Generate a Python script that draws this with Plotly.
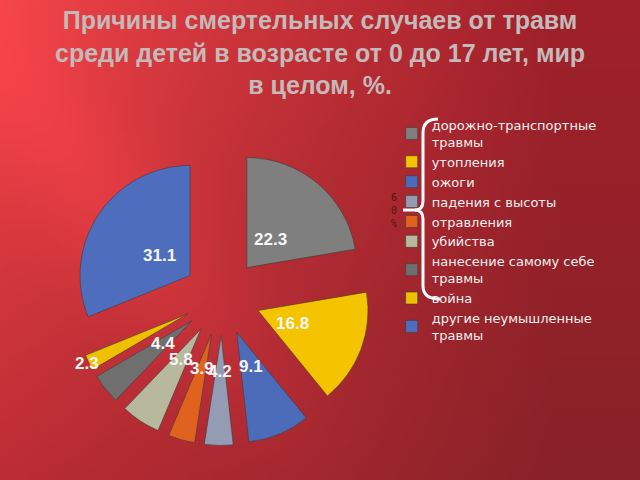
import math
import zlib
import struct
import base64
import plotly.graph_objects as go

# ---------------- data ----------------
categories = [
    "дорожно-транспортные<br>травмы",
    "утопления",
    "ожоги",
    "падения с высоты",
    "отравления",
    "убийства",
    "нанесение самому себе<br>травмы",
    "война",
    "другие неумышленные<br>травмы",
]
values = [22.3, 16.8, 9.1, 4.2, 3.9, 5.8, 4.4, 2.3, 31.1]
value_labels = ["22.3", "16.8", "9.1", "4.2", "3.9", "5.8", "4.4", "2.3", "31.1"]
colors = ["#7f7f7f", "#f4c400", "#4c6cb9", "#939cb3", "#e1621f",
          "#b8b89d", "#6f6f6f", "#efc000", "#4e6ebd"]
# radial position of each value label (fraction of pie radius)
label_radius = [0.68, 0.68, 0.68, 0.68, 0.68, 0.68, 0.68, 1.37, 0.68]
title_text = ("Причины смертельных случаев от травм<br>"
              "среди детей в возрасте от 0 до 17 лет, мир<br>"
              "в целом, %.")

W, H = 640, 480
PULL = 0.35
CX, CY, R_OUT = 222, 297, 148.5
R_PIE = R_OUT / (1 + PULL)
dom_x = [(CX - R_OUT) / W, (CX + R_OUT) / W]
dom_y = [1 - (CY + R_OUT) / H, 1 - (CY - R_OUT) / H]


# ---------------- background gradient (generated PNG) ----------------
def lerp(a, b, t):
    return a + (b - a) * t


def bg_color(u, v):
    tl, tr = (240, 68, 72), (160, 32, 42)
    bl, br = (188, 44, 52), (136, 33, 40)
    tu = min(1.0, u * 1.15)
    c = []
    for i in range(3):
        top = lerp(tl[i], tr[i], tu)
        bot = lerp(bl[i], br[i], tu)
        c.append(lerp(top, bot, v))
    px_, py_ = u * W, v * H
    ax, ay, bx, by = 0.0, 60.0, 330.0, 480.0
    dx, dy = bx - ax, by - ay
    L = math.hypot(dx, dy)
    d = abs((px_ - ax) * dy - (py_ - ay) * dx) / L
    t = ((px_ - ax) * dx + (py_ - ay) * dy) / (L * L)
    k = math.exp(-(d / 70.0) ** 2) * max(0.0, 1 - abs(t - 0.35) * 1.3)
    c[0] += 22 * k
    c[1] += 6 * k
    c[2] += 7 * k
    return tuple(max(0, min(255, int(round(x)))) for x in c)


def make_png(w, h):
    rows = []
    for y in range(h):
        row = bytearray([0])
        for x in range(w):
            row.extend(bg_color((x + 0.5) / w, (y + 0.5) / h))
        rows.append(bytes(row))
    raw = b"".join(rows)

    def chunk(tag, data):
        c = struct.pack(">I", len(data)) + tag + data
        return c + struct.pack(">I", zlib.crc32(tag + data) & 0xFFFFFFFF)

    png = b"\x89PNG\r\n\x1a\n"
    png += chunk(b"IHDR", struct.pack(">IIBBBBB", w, h, 8, 2, 0, 0, 0))
    png += chunk(b"IDAT", zlib.compress(raw, 9))
    png += chunk(b"IEND", b"")
    return "data:image/png;base64," + base64.b64encode(png).decode()


bg_uri = make_png(128, 96)

# ---------------- figure ----------------
fig = go.Figure()

fig.add_trace(go.Pie(
    labels=categories,
    values=values,
    sort=False,
    direction="clockwise",
    rotation=0,
    pull=[PULL] * len(values),
    marker=dict(colors=colors, line=dict(color="#3c3c3c", width=0.6)),
    textinfo="none",
    hoverinfo="label+value",
    domain=dict(x=dom_x, y=dom_y),
    showlegend=True,
))

# value labels: placed at the mid-angle of each slice (derived from the values)
total = sum(values)
cum = 0.0
for v, lab, rr in zip(values, value_labels, label_radius):
    ang = math.radians((cum + v / 2) / total * 360)
    cum += v
    lx = CX + rr * R_PIE * math.sin(ang)
    ly = CY - rr * R_PIE * math.cos(ang)
    fig.add_annotation(text=lab, xref="paper", yref="paper",
                       x=lx / W, y=1 - ly / H, showarrow=False,
                       xanchor="center", yanchor="middle",
                       font=dict(family="Liberation Sans", size=17,
                                 color="#f6f6f6", weight="bold"))


def px(x, y):
    return f"{x / W:.5f},{1 - y / H:.5f}"


bracket = ("M " + px(438, 119) + " Q " + px(423, 119) + " " + px(423, 133) +
           " L " + px(423, 201) + " Q " + px(423, 210) + " " + px(415, 210) +
           " Q " + px(423, 210) + " " + px(423, 219) +
           " L " + px(423, 286) + " Q " + px(423, 299) + " " + px(440, 299))
fig.add_shape(type="path", path=bracket, xref="paper", yref="paper",
              line=dict(color="white", width=3))
fig.add_shape(type="line", xref="paper", yref="paper",
              x0=403 / W, x1=416 / W, y0=1 - 210 / H, y1=1 - 210 / H,
              line=dict(color="white", width=3))

fig.add_annotation(text="6<br>0<br>%", xref="paper", yref="paper",
                   x=394 / W, y=1 - 210 / H, showarrow=False,
                   font=dict(family="DejaVu Sans Mono", size=10, color="#4a1712"))

fig.add_annotation(text=title_text, xref="paper", yref="paper",
                   x=0.5, y=1 - 53 / H, xanchor="center", yanchor="middle",
                   showarrow=False, align="center",
                   font=dict(family="Liberation Sans", size=25,
                             color="#c4baba", weight="bold"))

fig.update_layout(
    width=W, height=H,
    margin=dict(l=0, r=0, t=0, b=0),
    paper_bgcolor="#b02632",
    plot_bgcolor="rgba(0,0,0,0)",
    images=[dict(source=bg_uri, xref="paper", yref="paper", x=0, y=1,
                 sizex=1, sizey=1, sizing="stretch", layer="below",
                 xanchor="left", yanchor="top")],
    legend=dict(x=0.612, y=1 - 110 / H, xanchor="left", yanchor="top",
                bgcolor="rgba(0,0,0,0)", tracegroupgap=0,
                font=dict(family="DejaVu Sans", size=13, color="#f0f0f0")),
)

fig.write_html("out.html")
